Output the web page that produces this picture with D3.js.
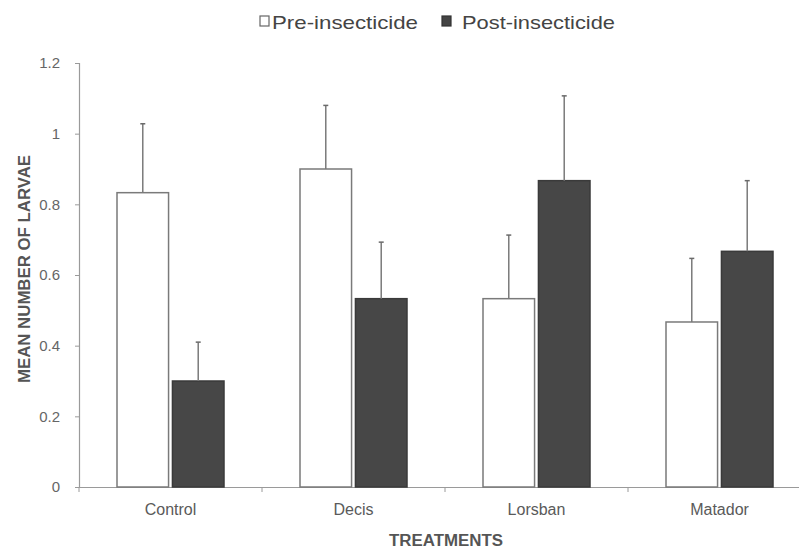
<!DOCTYPE html>
<html>
<head>
<meta charset="utf-8">
<script src="https://cdn.jsdelivr.net/npm/d3@7"></script>
<style>
  body { margin: 0; background: #fff; }
  svg text { font-family: "Liberation Sans", Arial, sans-serif; }
</style>
</head>
<body>
<svg id="chart"></svg>
<script>
// Data
const treatments = ['Control', 'Decis', 'Lorsban', 'Matador'];
const seriesNames = ['Pre-insecticide', 'Post-insecticide'];
const preMeans = [0.833, 0.9, 0.533, 0.467];
const postMeans = [0.3, 0.533, 0.867, 0.667];
const preErr = [0.195, 0.18, 0.18, 0.18];
const postErr = [0.11, 0.16, 0.24, 0.2];
const yTicks = [0, 0.2, 0.4, 0.6, 0.8, 1, 1.2];

const width = 799, height = 548;
const svg = d3.select('#chart').attr('width', width).attr('height', height);

// Flatten for binding
const rows = treatments.flatMap((t, i) => [
  { treatment: t, series: seriesNames[0], value: preMeans[i], err: preErr[i] },
  { treatment: t, series: seriesNames[1], value: postMeans[i], err: postErr[i] }
]);

// Scales (x-axis runs off the right edge, like the scanned figure)
const xScale = d3.scaleBand().domain(treatments).range([79, 811]);
const xSub = d3.scaleBand().domain(seriesNames).range([38, 145]).paddingInner(0.07);
const yScale = d3.scaleLinear().domain([0, 1.2]).range([487, 63]);

// Axes
const yAxis = d3.axisLeft(yScale).tickValues(yTicks).tickSize(4).tickPadding(15)
  .tickFormat(d => d3.format('')(d));
const yAxisG = svg.append('g').attr('transform', 'translate(79,0)').call(yAxis);
yAxisG.select('.domain').attr('stroke', '#9a9a9a').attr('stroke-width', 1.2);
yAxisG.selectAll('.tick line').attr('stroke', '#9a9a9a');
yAxisG.selectAll('.tick text').attr('fill', '#666').style('font-size', '15px');

const xAxis = d3.axisBottom(xScale).tickSize(0).tickPadding(17);
const xAxisG = svg.append('g').attr('transform', 'translate(0,487)').call(xAxis);
xAxisG.select('.domain').attr('stroke', '#9a9a9a').attr('stroke-width', 1.2);
xAxisG.selectAll('.tick text').attr('fill', '#5a5a5a').style('font-size', '16px');

// Category separator ticks
svg.append('g').selectAll('line')
  .data(treatments)
  .join('line')
  .attr('x1', d => xScale(d)).attr('x2', d => xScale(d))
  .attr('y1', 487).attr('y2', 492)
  .attr('stroke', '#9a9a9a');

// Bars
const chart = svg.append('g');
chart.selectAll('.bar')
  .data(rows)
  .join('rect')
  .attr('class', 'bar')
  .attr('x', d => xScale(d.treatment) + xSub(d.series))
  .attr('width', xSub.bandwidth())
  .attr('y', d => yScale(d.value))
  .attr('height', d => yScale(0) - yScale(d.value))
  .attr('fill', d => d.series === seriesNames[0] ? '#fff' : '#474747')
  .attr('stroke', d => d.series === seriesNames[0] ? '#7a7a7a' : '#3a3a3a')
  .attr('stroke-width', 1.5);

// Error bars (upper half only)
const cx = d => xScale(d.treatment) + xSub(d.series) + xSub.bandwidth() / 2;
chart.selectAll('.err')
  .data(rows)
  .join('line')
  .attr('class', 'err')
  .attr('x1', cx).attr('x2', cx)
  .attr('y1', d => yScale(d.value))
  .attr('y2', d => yScale(d.value + d.err))
  .attr('stroke', '#7a7a7a')
  .attr('stroke-width', 1.5);
chart.selectAll('.cap')
  .data(rows)
  .join('line')
  .attr('class', 'cap')
  .attr('x1', d => cx(d) - 2.5).attr('x2', d => cx(d) + 2.5)
  .attr('y1', d => yScale(d.value + d.err))
  .attr('y2', d => yScale(d.value + d.err))
  .attr('stroke', '#6a6a6a')
  .attr('stroke-width', 1.5);

// Axis titles
svg.append('text')
  .attr('transform', 'translate(30,269) rotate(-90)')
  .attr('text-anchor', 'middle')
  .attr('fill', '#555')
  .attr('textLength', 228)
  .attr('lengthAdjust', 'spacingAndGlyphs')
  .style('font-size', '16px')
  .style('font-weight', 'bold')
  .text('MEAN NUMBER OF LARVAE');

svg.append('text')
  .attr('x', 446).attr('y', 546)
  .attr('text-anchor', 'middle')
  .attr('fill', '#555')
  .attr('textLength', 114)
  .attr('lengthAdjust', 'spacingAndGlyphs')
  .style('font-size', '16px')
  .style('font-weight', 'bold')
  .text('TREATMENTS');

// Legend
const legendX = [260, 442];
const legendW = [146, 153];
const legend = svg.append('g').selectAll('g')
  .data(seriesNames)
  .join('g')
  .attr('transform', (d, i) => `translate(${legendX[i]},0)`);
legend.append('rect')
  .attr('x', 0).attr('y', 16).attr('width', 9).attr('height', 10)
  .attr('fill', (d, i) => i === 0 ? '#fff' : '#444')
  .attr('stroke', (d, i) => i === 0 ? '#666' : '#333')
  .attr('stroke-width', 1.2);
legend.append('text')
  .attr('x', (d, i) => i === 0 ? 12 : 20)
  .attr('y', 29)
  .attr('fill', '#444')
  .attr('textLength', (d, i) => legendW[i])
  .attr('lengthAdjust', 'spacingAndGlyphs')
  .style('font-size', '19px')
  .text(d => d);
</script>
</body>
</html>
